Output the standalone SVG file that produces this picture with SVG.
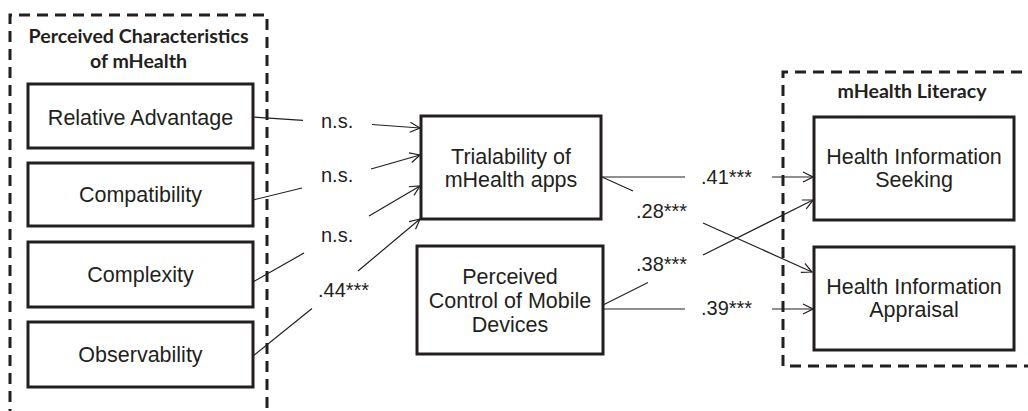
<svg xmlns="http://www.w3.org/2000/svg" width="1028" height="411" viewBox="0 0 1028 411">
<defs>
<marker id="arr" viewBox="0 0 12 12" refX="11" refY="6" markerWidth="12" markerHeight="12" markerUnits="userSpaceOnUse" orient="auto">
<path d="M1,1 L11,6 L1,11" fill="none" stroke="#231f20" stroke-width="1.2"/>
</marker>
<style>
.grp{fill:none;stroke:#231f20;stroke-width:3;stroke-dasharray:11 7}
.box{fill:#fff;stroke:#231f20;stroke-width:3}
.lbl{font-family:"Liberation Sans",Arial,sans-serif;font-size:21.5px;fill:#231f20;text-anchor:middle}
.ttl{font-family:Lato,"Open Sans",sans-serif;font-weight:bold;font-size:19.6px;fill:#231f20;text-anchor:middle}
.edge{fill:none;stroke:#231f20;stroke-width:1.2}
.el{font-family:"Liberation Sans",Arial,sans-serif;font-size:20px;fill:#231f20}
</style>
</defs>
<rect width="1028" height="411" fill="#fff"/>
<g id="group-characteristics">
<path class="grp" d="M10,420 V15 H267 V420"/>
<text class="ttl" x="138.5" y="43">Perceived Characteristics</text>
<text class="ttl" x="138.5" y="68">of mHealth</text>
</g>
<g id="group-literacy">
<path class="grp" d="M1040,72 H783 V366 H1040"/>
<text class="ttl" x="912" y="98">mHealth Literacy</text>
</g>
<g id="connectors">
<path class="edge" d="M253,117 L303,120.3"/>
<path class="edge" d="M372,124.5 L420,128" marker-end="url(#arr)"/>
<path class="edge" d="M253,200 L302,188"/>
<path class="edge" d="M371,169 L420,155" marker-end="url(#arr)"/>
<path class="edge" d="M253,282 L304,253"/>
<path class="edge" d="M369,216 L420,186" marker-end="url(#arr)"/>
<path class="edge" d="M253,356 L312,308.5"/>
<path class="edge" d="M358,271 L420,219" marker-end="url(#arr)"/>
<path class="edge" d="M602,177 L685,177"/>
<path class="edge" d="M772,177 L813,177" marker-end="url(#arr)"/>
<path class="edge" d="M602,177 L633,191"/>
<path class="edge" d="M703,223 L812,272" marker-end="url(#arr)"/>
<path class="edge" d="M603,305 L648,282.5"/>
<path class="edge" d="M703,255 L813,200" marker-end="url(#arr)"/>
<path class="edge" d="M603,309 L685,309"/>
<path class="edge" d="M772,309 L813,309" marker-end="url(#arr)"/>
<text class="el" x="321" y="128">n.s.</text>
<text class="el" x="321" y="182">n.s.</text>
<text class="el" x="321" y="242">n.s.</text>
<text class="el" x="318" y="297">.44***</text>
<text class="el" x="701" y="184">.41***</text>
<text class="el" x="636" y="218">.28***</text>
<text class="el" x="636" y="271">.38***</text>
<text class="el" x="701" y="315">.39***</text>
</g>
<g id="node-relative-advantage">
<rect class="box" x="28" y="84" width="225" height="64"/>
<text class="lbl" x="140.5" y="125">Relative Advantage</text>
</g>
<g id="node-compatibility">
<rect class="box" x="28" y="163" width="225" height="63"/>
<text class="lbl" x="140.5" y="202">Compatibility</text>
</g>
<g id="node-complexity">
<rect class="box" x="28" y="242" width="225" height="65"/>
<text class="lbl" x="140.5" y="282">Complexity</text>
</g>
<g id="node-observability">
<rect class="box" x="28" y="322" width="225" height="65"/>
<text class="lbl" x="140.5" y="362">Observability</text>
</g>
<g id="node-trialability">
<rect class="box" x="421" y="116" width="180" height="103"/>
<text class="lbl" x="511" y="164">Trialability of</text>
<text class="lbl" x="511" y="187">mHealth apps</text>
</g>
<g id="node-perceived-control">
<rect class="box" x="417" y="246" width="186" height="108"/>
<text class="lbl" x="510" y="284">Perceived</text>
<text class="lbl" x="510" y="308">Control of Mobile</text>
<text class="lbl" x="510" y="332">Devices</text>
</g>
<g id="node-seeking">
<rect class="box" x="814" y="117" width="200" height="103"/>
<text class="lbl" x="914" y="164">Health Information</text>
<text class="lbl" x="914" y="187">Seeking</text>
</g>
<g id="node-appraisal">
<rect class="box" x="814" y="247" width="200" height="103"/>
<text class="lbl" x="914" y="294">Health Information</text>
<text class="lbl" x="914" y="317">Appraisal</text>
</g>
</svg>
